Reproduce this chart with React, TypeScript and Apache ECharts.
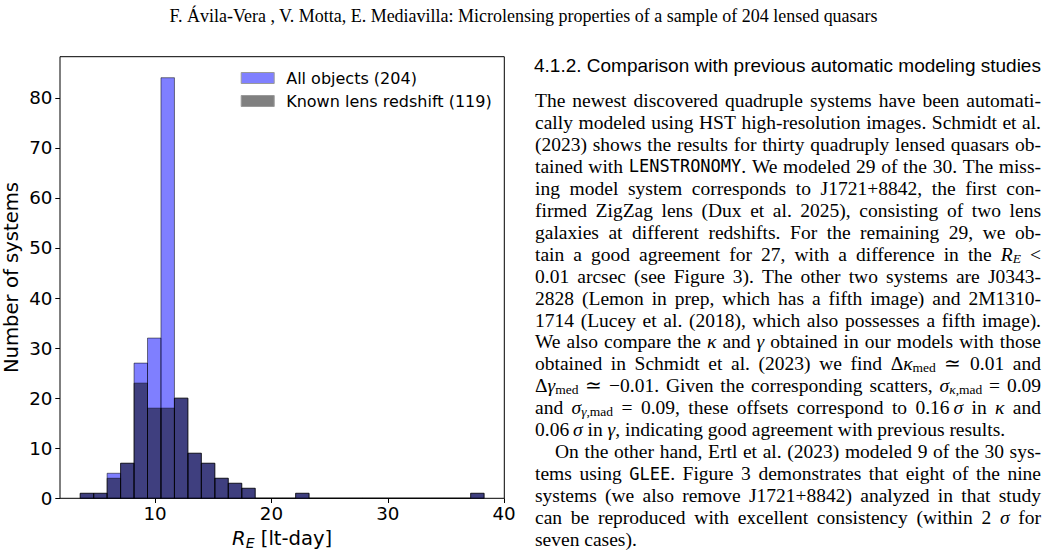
import React, { useEffect, useRef } from "react";
import * as echarts from "echarts";

// ---------- Histogram data ----------
const RE_MIN = 3.56; // left edge of first bin [lt-day]
const RE_MAX = 38.28; // right edge of last bin [lt-day]
const ALL_COUNTS = [1, 1, 5, 7, 27, 32, 84, 20, 9, 7, 4, 3, 2, 0, 0, 0, 1, 0, 0, 0, 0, 0, 0, 0, 0, 0, 0, 0, 0, 1];
const KNOWN_COUNTS = [1, 1, 4, 7, 23, 18, 18, 20, 9, 7, 4, 3, 2, 0, 0, 0, 1, 0, 0, 0, 0, 0, 0, 0, 0, 0, 0, 0, 0, 1];
const SERIES_NAMES = ["All objects (204)", "Known lens redshift (119)"];
const X_TICKS = [10, 20, 30, 40];
const Y_TICKS = [0, 10, 20, 30, 40, 50, 60, 70, 80];

// ---------- Page text ----------
const HEADER = "F. Ávila-Vera , V. Motta, E. Mediavilla: Microlensing properties of a sample of 204 lensed quasars";
const HEADING = "4.1.2. Comparison with previous automatic modeling studies";
const BODY_LINES = [
  "The newest discovered quadruple systems have been automati-",
  "cally modeled using HST high-resolution images. Schmidt et al.",
  "(2023) shows the results for thirty quadruply lensed quasars ob-",
  "tained with {tt|LENSTRONOMY}. We modeled 29 of the 30. The miss-",
  "ing model system corresponds to J1721+8842, the first con-",
  "firmed ZigZag lens (Dux et al. 2025), consisting of two lens",
  "galaxies at different redshifts. For the remaining 29, we ob-",
  "tain a good agreement for 27, with a difference in the {i|R}{subi|E} <",
  "0.01 arcsec (see Figure 3). The other two systems are J0343-",
  "2828 (Lemon in prep, which has a fifth image) and 2M1310-",
  "1714 (Lucey et al. (2018), which also possesses a fifth image).",
  "We also compare the {i|κ} and {i|γ} obtained in our models with those",
  "obtained in Schmidt et al. (2023) we find Δ{i|κ}{sub|med} ≃ 0.01 and",
  "Δ{i|γ}{sub|med} ≃ −0.01. Given the corresponding scatters, {i|σ}{subi|κ}{sub|,mad} = 0.09",
  "and {i|σ}{subi|γ}{sub|,mad} = 0.09, these offsets correspond to 0.16\u2009{i|σ} in {i|κ} and",
  "0.06\u2009{i|σ} in {i|γ}, indicating good agreement with previous results.",
  "On the other hand, Ertl et al. (2023) modeled 9 of the 30 sys-",
  "tems using {tt|GLEE}. Figure 3 demonstrates that eight of the nine",
  "systems (we also remove J1721+8842) analyzed in that study",
  "can be reproduced with excellent consistency (within 2 {i|σ} for",
  "seven cases).",
];
const LAST_LINES = [15, 20];
const INDENT_LINES = [16];

const SERIF = "'Liberation Serif'";
const SANS = "'DejaVu Sans'";
const BODY_SIZE = 19.5;
const BODY_LH = 22;

type St = { fontSize: number; fontFamily: string; fontStyle?: string; lineHeight?: number; verticalAlign?: string; fill?: string };
const BASE: St = { fontSize: BODY_SIZE, fontFamily: SERIF, lineHeight: BODY_LH };
const RICH: Record<string, St> = {
  i: { fontSize: BODY_SIZE, fontFamily: SERIF, fontStyle: "italic", lineHeight: BODY_LH },
  sub: { fontSize: 13.5, fontFamily: SERIF, lineHeight: 9, verticalAlign: "bottom" },
  subi: { fontSize: 13.5, fontFamily: SERIF, fontStyle: "italic", lineHeight: 9, verticalAlign: "bottom" },
  tt: { fontSize: 17, fontFamily: "'DejaVu Sans Mono'", lineHeight: BODY_LH },
};

let ctx: CanvasRenderingContext2D | null = null;
function measure(text: string, st: St) {
  if (!ctx) ctx = document.createElement("canvas").getContext("2d");
  ctx!.font = `${st.fontStyle || "normal"} normal ${st.fontSize}px ${st.fontFamily}`;
  return ctx!.measureText(text).width;
}
function tokenWidth(tok: string) {
  const re = /\{(\w+)\|([^}]*)\}|([^{]+)/g;
  let m: RegExpExecArray | null;
  let w = 0;
  while ((m = re.exec(tok))) {
    if (m[1]) w += measure(m[2], RICH[m[1]]);
    else w += measure(m[3], BASE);
  }
  return w;
}

function buildGraphic() {
  const els: any[] = [];
  // header
  const hw = measure(HEADER, { fontSize: 16, fontFamily: SERIF });
  const hSize = (16 * 709) / hw;
  els.push({
    type: "text", x: 523.5, y: 15.5, silent: true,
    style: { text: HEADER, fontSize: hSize, fontFamily: SERIF, fill: "#000", align: "center", verticalAlign: "middle" },
  });
  // heading
  const LEFT = 535;
  const RIGHT = 1041;
  const sw = measure(HEADING, { fontSize: 18, fontFamily: "'Liberation Sans'" });
  const sSize = (18 * (RIGHT - 534)) / sw;
  els.push({
    type: "text", x: 534, y: 65.5, silent: true,
    style: { text: HEADING, fontSize: sSize, fontFamily: "'Liberation Sans'", fill: "#000", align: "left", verticalAlign: "middle" },
  });
  // body
  const rich: any = {};
  Object.keys(RICH).forEach((k) => (rich[k] = { ...RICH[k], color: "#000", fill: "#000" }));
  const spaceW = measure(" ", BASE);
  BODY_LINES.forEach((line, li) => {
    const y = 100.5 + li * 21.95;
    const toks = line.split(" ");
    const widths = toks.map(tokenWidth);
    const x0 = LEFT + (INDENT_LINES.includes(li) ? 20 : 0);
    const total = widths.reduce((a, b) => a + b, 0);
    const gap = LAST_LINES.includes(li) || toks.length < 2 ? spaceW : (RIGHT - x0 - total) / (toks.length - 1);
    let x = x0;
    toks.forEach((t, ti) => {
      els.push({
        type: "text", x, y, silent: true,
        style: {
          text: t, fontSize: BODY_SIZE, fontFamily: SERIF, lineHeight: BODY_LH, fill: "#000",
          align: "left", verticalAlign: "middle", rich,
        },
      });
      x += widths[ti] + gap;
    });
  });
  return els;
}

function buildOption(): any {
  const w = (RE_MAX - RE_MIN) / ALL_COUNTS.length;
  const toData = (counts: number[]) => counts.map((c, i) => [RE_MIN + i * w, RE_MIN + (i + 1) * w, c]);
  const span = RE_MAX - RE_MIN;
  const xMin = RE_MIN - 0.05 * span;
  const xMax = RE_MAX + 0.05 * span;
  const yMax = Math.max(...ALL_COUNTS) * 1.05;
  const mkRender = (fill: string, stroke: string) => (params: any, api: any) => {
    const a = api.coord([api.value(0), 0]);
    const b = api.coord([api.value(1), api.value(2)]);
    return {
      type: "rect",
      shape: { x: a[0], y: b[1], width: b[0] - a[0], height: a[1] - b[1] },
      style: { fill, stroke, lineWidth: 1 },
    };
  };
  const tickFont = { fontSize: 18.3, fontFamily: SANS, color: "#000" };
  const TITLE = 19.6;
  return {
    animation: false,
    backgroundColor: "#fff",
    grid: {
      left: 59.5, top: 56.7, right: 1051 - 504.3, bottom: 556 - 498.3,
      show: true, borderColor: "#000", borderWidth: 1, backgroundColor: "transparent",
    },
    legend: {
      orient: "vertical", left: 240.7, top: 70, itemWidth: 33, itemHeight: 11, itemGap: 7,
      selectedMode: false, padding: 0, icon: "rect",
      textStyle: { fontSize: 16, fontFamily: SANS, color: "#000", padding: [0, 0, 0, 7] },
      data: [
        { name: SERIES_NAMES[0], itemStyle: { color: "#8080ff", borderColor: "#9a9a9a", borderWidth: 1 } },
        { name: SERIES_NAMES[1], itemStyle: { color: "#808080", borderColor: "#9a9a9a", borderWidth: 1 } },
      ],
    },
    xAxis: {
      type: "value", min: xMin, max: xMax,
      axisLine: { show: false },
      splitLine: { show: false },
      axisTick: { show: true, length: 4.7, lineStyle: { color: "#000", width: 1 }, customValues: X_TICKS },
      axisLabel: { ...tickFont, margin: 6.5, customValues: X_TICKS },
      name: "{i|R}{s|E} [lt-day]",
      nameLocation: "middle",
      nameGap: 26,
      nameTextStyle: {
        fontSize: TITLE, fontFamily: SANS, color: "#000", lineHeight: 22,
        rich: {
          i: { fontSize: TITLE, fontFamily: SANS, fontStyle: "italic", color: "#000", lineHeight: 22 },
          s: { fontSize: 14, fontFamily: SANS, fontStyle: "italic", color: "#000", lineHeight: 9, verticalAlign: "bottom" },
        },
      },
    },
    yAxis: {
      type: "value", min: 0, max: yMax,
      axisLine: { show: false },
      splitLine: { show: false },
      axisTick: { show: true, length: 4.7, lineStyle: { color: "#000", width: 1 }, customValues: Y_TICKS },
      axisLabel: { ...tickFont, margin: 7.6, customValues: Y_TICKS },
      name: "Number of systems",
      nameLocation: "middle",
      nameGap: 39,
      nameTextStyle: { fontSize: TITLE, fontFamily: SANS, color: "#000" },
    },
    series: [
      {
        type: "custom", name: SERIES_NAMES[0], data: toData(ALL_COUNTS),
        encode: { x: [0, 1], y: 2 },
        itemStyle: { color: "rgba(0,0,255,0.5)" },
        renderItem: mkRender("rgba(0,0,255,0.5)", "rgba(0,0,0,0.5)"),
      },
      {
        type: "custom", name: SERIES_NAMES[1], data: toData(KNOWN_COUNTS),
        encode: { x: [0, 1], y: 2 },
        itemStyle: { color: "rgba(0,0,0,0.5)" },
        renderItem: mkRender("rgba(0,0,0,0.5)", "rgba(0,0,0,0.5)"),
      },
    ],
    graphic: { elements: buildGraphic() },
  };
}

export default function App() {
  const ref = useRef<HTMLDivElement>(null);
  useEffect(() => {
    if (!ref.current) return;
    const chart = echarts.init(ref.current, null, { renderer: "svg" });
    chart.setOption(buildOption());
    return () => chart.dispose();
  }, []);
  return (
    <div
      ref={ref}
      style={{ position: "fixed", left: 0, top: 0, width: 1051, height: 556, background: "#fff" }}
    />
  );
}
